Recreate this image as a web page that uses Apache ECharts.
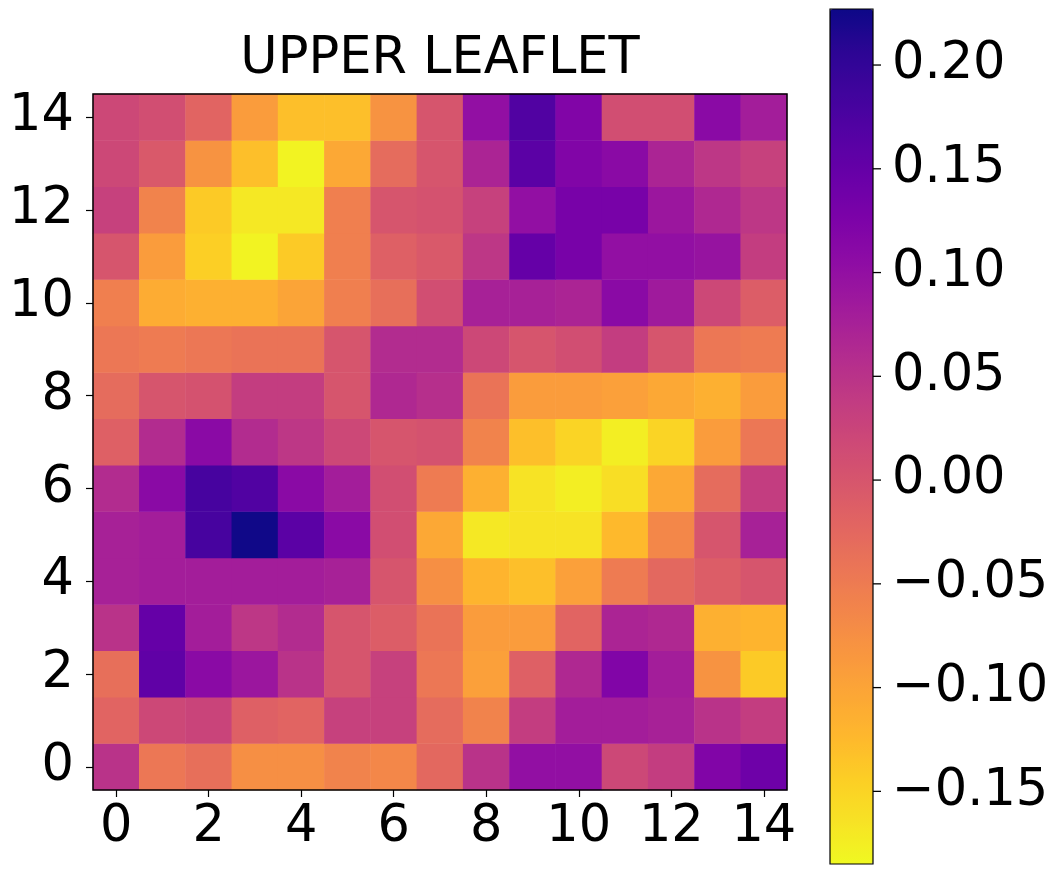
<!DOCTYPE html>
<html>
<head>
<meta charset="utf-8">
<script src="https://cdn.jsdelivr.net/npm/echarts@6/dist/echarts.min.js"></script>
<style>
html,body{margin:0;padding:0;background:#fff;}
#chart{width:1054px;height:872px;}
</style>
</head>
<body>
<div id="chart"></div>
<script>
// Data (rows listed by y index, 0 = bottom row)
const xCategories = ['0','1','2','3','4','5','6','7','8','9','10','11','12','13','14'];
const yCategories = ['0','1','2','3','4','5','6','7','8','9','10','11','12','13','14'];
const row0  = [0.05, -0.045, -0.035, -0.075, -0.075, -0.06, -0.065, -0.025, 0.05, 0.10, 0.10, 0.02, 0.035, 0.12, 0.14];
const row1  = [-0.02, 0.02, 0.025, -0.015, -0.02, 0.03, 0.03, -0.03, -0.06, 0.035, 0.08, 0.08, 0.075, 0.05, 0.035];
const row2  = [-0.035, 0.155, 0.11, 0.09, 0.05, 0.00, 0.03, -0.045, -0.095, -0.015, 0.065, 0.12, 0.08, -0.08, -0.14];
const row3  = [0.05, 0.15, 0.08, 0.045, 0.06, 0.00, -0.01, -0.04, -0.09, -0.09, -0.02, 0.07, 0.065, -0.115, -0.12];
const row4  = [0.075, 0.08, 0.08, 0.08, 0.08, 0.075, 0.00, -0.075, -0.12, -0.13, -0.095, -0.05, -0.025, -0.01, 0.00];
const row5  = [0.075, 0.08, 0.18, 0.225, 0.16, 0.11, 0.01, -0.105, -0.17, -0.165, -0.165, -0.125, -0.065, 0.00, 0.075];
const row6  = [0.06, 0.11, 0.18, 0.17, 0.11, 0.08, 0.01, -0.05, -0.115, -0.165, -0.175, -0.16, -0.105, -0.03, 0.035];
const row7  = [-0.015, 0.06, 0.11, 0.06, 0.045, 0.02, 0.00, 0.005, -0.06, -0.13, -0.15, -0.175, -0.15, -0.09, -0.045];
const row8  = [-0.03, 0.00, 0.005, 0.035, 0.035, 0.00, 0.065, 0.055, -0.04, -0.09, -0.09, -0.095, -0.105, -0.115, -0.09];
const row9  = [-0.045, -0.05, -0.045, -0.04, -0.04, 0.00, 0.06, 0.06, 0.02, 0.00, 0.01, 0.035, 0.00, -0.045, -0.05];
const row10 = [-0.055, -0.11, -0.115, -0.115, -0.10, -0.055, -0.035, 0.01, 0.075, 0.075, 0.07, 0.11, 0.085, 0.02, -0.01];
const row11 = [0.00, -0.09, -0.145, -0.18, -0.14, -0.055, -0.015, -0.005, 0.045, 0.15, 0.13, 0.10, 0.10, 0.095, 0.035];
const row12 = [0.03, -0.06, -0.14, -0.17, -0.17, -0.055, 0.00, 0.005, 0.03, 0.10, 0.13, 0.13, 0.09, 0.065, 0.045];
const row13 = [0.02, -0.005, -0.08, -0.13, -0.18, -0.105, -0.03, 0.00, 0.07, 0.16, 0.12, 0.11, 0.07, 0.045, 0.03];
const row14 = [0.02, 0.01, -0.02, -0.09, -0.13, -0.13, -0.08, 0.00, 0.10, 0.17, 0.12, 0.01, 0.01, 0.11, 0.08];
const colorMin = -0.185;
const colorMax = 0.227;
const colorbarTicks = [-0.15, -0.10, -0.05, 0.00, 0.05, 0.10, 0.15, 0.20];
const titleText = 'UPPER LEAFLET';

const rows = [row0,row1,row2,row3,row4,row5,row6,row7,row8,row9,row10,row11,row12,row13,row14];
const heatData = [];
rows.forEach((r, y) => r.forEach((v, x) => heatData.push([x, y, v])));
const tickData = colorbarTicks.map(v => [1, v]);

// plasma reversed (low -> high)
const plasma = ['#0d0887','#2c0594','#41049d','#5601a4','#6a00a8','#7e03a8','#8f0da4','#a11b9b','#b12a90','#bf3984',
  '#cc4778','#d6556d','#e16462','#ea7457','#f2844b','#f89540','#fca636','#feb72d','#fcce25','#f7e225','#f0f921'];
const plasmaR = plasma.slice().reverse();

const FONT = 'DejaVu Sans';
const FS = 51;
const cbLeft = 830, cbTop = 9, cbW = 43, cbH = 855;

const fmt = v => (v < 0 ? '\u2212' : '') + Math.abs(v).toFixed(2);

const chart = echarts.init(document.getElementById('chart'), null, {renderer: 'canvas'});
chart.setOption({
  backgroundColor: '#fff',
  animation: false,
  title: {
    text: titleText, left: 440, top: 34, textAlign: 'center', padding: 0,
    textStyle: {fontFamily: FONT, fontSize: FS, fontWeight: 'normal', color: '#000'}
  },
  grid: [
    {left: 93, top: 94, width: 694, height: 696, show: true, z: 10, outerBoundsMode: 'none', containLabel: false,
     backgroundColor: 'transparent', borderColor: '#000', borderWidth: 1.5},
    {left: cbLeft, top: cbTop, width: cbW, height: cbH, show: true, z: 10, outerBoundsMode: 'none', containLabel: false,
     backgroundColor: 'transparent', borderColor: '#000', borderWidth: 1.2}
  ],
  xAxis: [
    {type: 'category', gridIndex: 0, data: xCategories, boundaryGap: true,
     axisLine: {show: false},
     axisTick: {show: true, alignWithLabel: true, interval: 1, length: 7, inside: false, lineStyle: {color: '#000', width: 1.2}},
     axisLabel: {interval: 1, margin: 12, fontFamily: FONT, fontSize: FS, color: '#000'},
     splitLine: {show: false}, z: 10},
    {type: 'value', gridIndex: 1, min: 0, max: 1, show: false}
  ],
  yAxis: [
    {type: 'category', gridIndex: 0, data: yCategories, boundaryGap: true,
     axisLine: {show: false},
     axisTick: {show: true, alignWithLabel: true, interval: 1, length: 7, inside: false, lineStyle: {color: '#000', width: 1.2}},
     axisLabel: {interval: 1, margin: 19, fontFamily: FONT, fontSize: FS, color: '#000'},
     splitLine: {show: false}, z: 10},
    {type: 'value', gridIndex: 1, min: colorMin, max: colorMax, show: false}
  ],
  visualMap: {
    type: 'continuous', min: colorMin, max: colorMax, seriesIndex: 0,
    calculable: false, left: cbLeft, top: cbTop, itemWidth: cbW, itemHeight: cbH,
    padding: 0, text: null, showLabel: false, orient: 'vertical',
    inRange: {color: plasmaR}
  },
  series: [{
    type: 'heatmap', xAxisIndex: 0, yAxisIndex: 0, data: heatData,
    itemStyle: {borderWidth: 0}, emphasis: {disabled: true}
  }, {
    type: 'scatter', xAxisIndex: 1, yAxisIndex: 1, data: tickData, clip: false, z: 12,
    symbol: 'rect', symbolSize: [8, 1.3], symbolOffset: [4, 0], silent: true,
    itemStyle: {color: '#000', opacity: 1},
    label: {show: true, position: 'right', distance: 11, formatter: p => fmt(p.value[1]),
            fontFamily: FONT, fontSize: FS, color: '#000', opacity: 1},
    emphasis: {disabled: true}
  }]
});
</script>
</body>
</html>
